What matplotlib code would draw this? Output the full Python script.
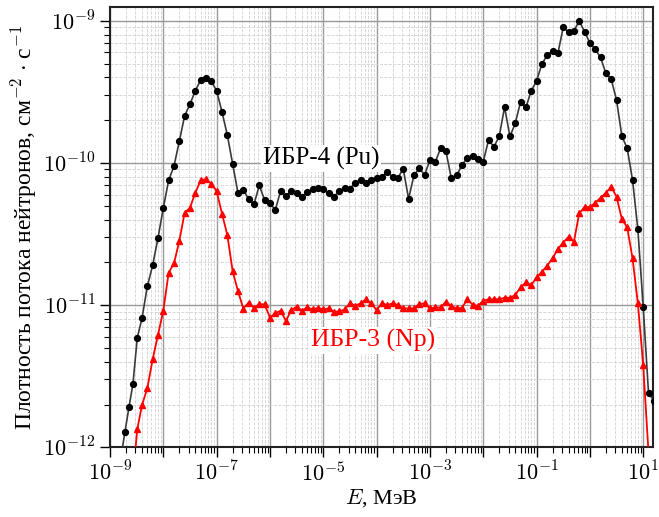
import numpy as np
import matplotlib
matplotlib.use("Agg")
import matplotlib.pyplot as plt
from matplotlib.ticker import LogLocator, FuncFormatter, NullFormatter

plt.rcParams['font.family'] = ['Liberation Serif', 'DejaVu Serif']
plt.rcParams['mathtext.fontset'] = 'cm'

# ---- data (log10 of energy in MeV, log10 of flux density) ----
pu_log_e = [-8.80, -8.72, -8.644, -8.569, -8.488, -8.40, -8.30, -8.20, -8.10, -8.00,
            -7.90, -7.80, -7.70, -7.60, -7.50, -7.40, -7.30, -7.20, -7.10, -7.00,
            -6.90, -6.80, -6.70, -6.60, -6.50, -6.40, -6.30, -6.20, -6.10, -6.00,
            -5.90, -5.80, -5.70, -5.60, -5.50, -5.40, -5.30, -5.20, -5.10, -5.00,
            -4.90, -4.80, -4.70, -4.60, -4.50, -4.40, -4.30, -4.20, -4.10, -4.00,
            -3.90, -3.80, -3.70, -3.60, -3.50, -3.40, -3.30, -3.20, -3.10, -3.00,
            -2.90, -2.80, -2.70, -2.60, -2.50, -2.40, -2.30, -2.20, -2.10, -2.00,
            -1.90, -1.80, -1.70, -1.60, -1.50, -1.40, -1.30, -1.20, -1.10, -1.00,
            -0.90, -0.80, -0.70, -0.60, -0.50, -0.40, -0.30, -0.20, -0.10, 0.00,
            0.10, 0.20, 0.30, 0.40, 0.50, 0.60, 0.70, 0.80, 0.90, 1.00,
            1.10, 1.20]
pu_log_flux = [-12.08, -11.894, -11.717, -11.553, -11.229, -11.093, -10.868, -10.720, -10.528, -10.317,
               -10.122, -10.022, -9.848, -9.668, -9.586, -9.492, -9.417, -9.400, -9.426, -9.492,
               -9.640, -9.802, -10.006, -10.210, -10.188, -10.254, -10.291, -10.158, -10.261, -10.282,
               -10.331, -10.196, -10.235, -10.200, -10.210, -10.238, -10.205, -10.186, -10.177, -10.181,
               -10.214, -10.238, -10.196, -10.177, -10.181, -10.139, -10.120, -10.144, -10.120, -10.108,
               -10.097, -10.064, -10.097, -10.104, -10.041, -10.252, -10.087, -10.038, -10.083, -9.980,
               -9.994, -9.897, -9.916, -10.106, -10.087, -10.017, -9.963, -9.951, -9.970, -9.991,
               -9.839, -9.886, -9.813, -9.607, -9.813, -9.722, -9.570, -9.609, -9.492, -9.422,
               -9.305, -9.241, -9.213, -9.229, -9.046, -9.079, -9.072, -9.000, -9.077, -9.155,
               -9.201, -9.257, -9.370, -9.410, -9.558, -9.811, -9.897, -10.120, -10.467, -11.011,
               -11.620, -11.672]

np_log_e = [-8.569, -8.488, -8.40, -8.30, -8.20, -8.10, -8.00,
            -7.90, -7.80, -7.70, -7.60, -7.50, -7.40, -7.30, -7.20, -7.10, -7.00,
            -6.90, -6.80, -6.70, -6.60, -6.50, -6.40, -6.30, -6.20, -6.10, -6.00,
            -5.90, -5.80, -5.70, -5.60, -5.50, -5.40, -5.30, -5.20, -5.10, -5.00,
            -4.90, -4.80, -4.70, -4.60, -4.50, -4.40, -4.30, -4.20, -4.10, -4.00,
            -3.90, -3.80, -3.70, -3.60, -3.50, -3.40, -3.30, -3.20, -3.10, -3.00,
            -2.90, -2.80, -2.70, -2.60, -2.50, -2.40, -2.30, -2.20, -2.10, -2.00,
            -1.90, -1.80, -1.70, -1.60, -1.50, -1.40, -1.30, -1.20, -1.10, -1.00,
            -0.90, -0.80, -0.70, -0.60, -0.50, -0.40, -0.30, -0.20, -0.10, 0.00,
            0.10, 0.20, 0.30, 0.40, 0.50, 0.60, 0.70, 0.80, 0.90, 1.00,
            1.10]
np_log_flux = [-12.20, -11.873, -11.703, -11.585, -11.381, -11.210, -11.039,
               -10.772, -10.706, -10.549, -10.350, -10.315, -10.210, -10.122, -10.115, -10.145, -10.198,
               -10.356, -10.505, -10.760, -10.901, -11.024, -10.982, -11.018, -10.994, -10.994, -11.087,
               -11.056, -11.040, -11.110, -11.035, -11.010, -11.039, -11.016, -11.030, -11.020, -11.030,
               -11.023, -11.046, -11.044, -11.030, -10.987, -11.004, -10.987, -10.959, -10.987, -11.034,
               -10.987, -11.000, -10.987, -11.000, -11.023, -11.023, -11.023, -10.992, -10.987, -11.023,
               -11.016, -11.016, -10.976, -11.006, -11.023, -11.020, -10.959, -10.996, -11.006, -10.969,
               -10.959, -10.959, -10.959, -10.948, -10.948, -10.929, -10.875, -10.840, -10.859, -10.805,
               -10.765, -10.723, -10.669, -10.605, -10.560, -10.519, -10.554, -10.354, -10.310, -10.310,
               -10.280, -10.245, -10.210, -10.167, -10.238, -10.395, -10.453, -10.671, -10.987, -11.421,
               -12.04]

label_pu = "ИБР-4 (Pu)"
label_np = "ИБР-3 (Np)"

pu_e = np.power(10.0, pu_log_e)
pu_f = np.power(10.0, pu_log_flux)
np_e = np.power(10.0, np_log_e)
np_f = np.power(10.0, np_log_flux)

fig = plt.figure(figsize=(6.59, 5.17), dpi=100)
ax = fig.add_axes([0.1669, 0.1348, 0.8245, 0.852])

ax.plot(pu_e, pu_f, color='#3a3a3a', lw=1.2, marker='o', ms=4.2,
        mfc='black', mec='black', zorder=3)
ax.plot(np_e, np_f, color='red', lw=1.3, marker='^', ms=5.0,
        mfc='red', mec='red', zorder=3)

ax.set_xscale('log')
ax.set_yscale('log')
ax.set_xlim(1e-9, 10**1.19)
ax.set_ylim(1e-12, 10**-8.9015)

ax.xaxis.set_major_locator(LogLocator(base=10, numticks=30))
ax.xaxis.set_minor_locator(LogLocator(base=10, subs=np.arange(2, 10), numticks=30))
ax.yaxis.set_major_locator(LogLocator(base=10, numticks=30))
ax.yaxis.set_minor_locator(LogLocator(base=10, subs=np.arange(2, 10), numticks=30))

def xfmt(v, pos):
    e = int(round(np.log10(v)))
    if e % 2 == 0:
        return ''
    return r'$10^{%d}$' % e

def yfmt(v, pos):
    e = int(round(np.log10(v)))
    return r'$10^{%d}$' % e

ax.xaxis.set_major_formatter(FuncFormatter(xfmt))
ax.yaxis.set_major_formatter(FuncFormatter(yfmt))
ax.xaxis.set_minor_formatter(NullFormatter())
ax.yaxis.set_minor_formatter(NullFormatter())

ax.tick_params(which='major', direction='out', length=7, width=1.0, labelsize=16)
ax.tick_params(which='minor', direction='out', length=4, width=0.8)

ax.grid(which='major', color='#9a9a9a', lw=1.0, ls='-', zorder=0)
ax.grid(which='minor', color='#d2d2d2', lw=0.6, ls='--', zorder=0)
ax.set_axisbelow(True)

for s in ax.spines.values():
    s.set_linewidth(1.5)
    s.set_color('#222222')

ax.set_xlabel(r'$E$, МэВ', fontsize=16, labelpad=1)
ax.set_ylabel(r'Плотность потока нейтронов, см$^{-2}$ $\cdot$ с$^{-1}$', fontsize=17, labelpad=3)

ax.text(10**-5.04, 10**-9.97, label_pu, fontsize=18, color='black',
        ha='center', va='center', zorder=4,
        bbox=dict(facecolor='white', edgecolor='none', pad=1.5))
ax.text(10**-4.07, 10**-11.25, label_np, fontsize=18.5, color='red',
        ha='center', va='center', zorder=4,
        bbox=dict(facecolor='white', edgecolor='none', pad=1.5))

fig.savefig('out.png', dpi=100)
